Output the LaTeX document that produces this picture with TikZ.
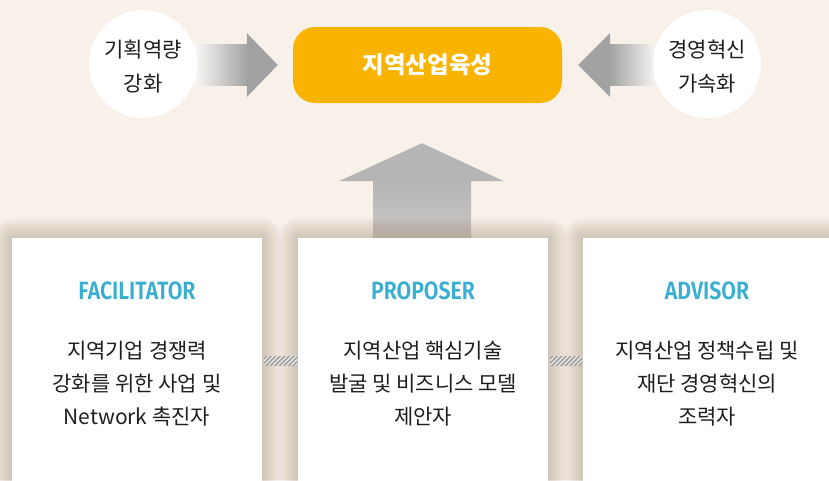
\documentclass[tikz,border=0pt]{standalone}
\usepackage{fontspec}
\setmainfont{Noto Sans CJK KR}
\newfontfamily\kr{Noto Sans CJK KR}
\newfontfamily\titlef[FakeStretch=0.85]{Fira Sans SemiBold}
\usetikzlibrary{calc}
\definecolor{bg}{HTML}{F7F1EA}
\definecolor{gold}{HTML}{F8B400}
\definecolor{titleblue}{HTML}{38AED1}
\definecolor{txt}{HTML}{1E1E1E}
\definecolor{arrowgray}{HTML}{A2A2A2}
\definecolor{upgray}{HTML}{B5B5B5}
\definecolor{uplight}{HTML}{CAC8C4}
\definecolor{shadowc}{HTML}{9A8068}
\definecolor{hatchc}{HTML}{A0A0A0}
\definecolor{hatchbg}{HTML}{EEEAE6}
\pgfdeclarelayer{back}
\pgfdeclarelayer{shade}
\pgfsetlayers{back,shade,main}
\begin{document}
\begin{tikzpicture}[x=1pt,y=-1pt,
  circ/.style={circle, fill=white, minimum size=108pt, inner sep=0},
  ctext/.style={font=\kr\fontsize{21}{34}\selectfont, text=txt, align=center, inner sep=0},
  goalbox/.style={rounded corners=22pt, fill=gold, minimum width=269pt, minimum height=76pt, inner sep=0, font=\kr\bfseries\fontsize{23.5}{26}\selectfont, text=white},
  panel/.style={fill=white, minimum width=250pt, minimum height=262pt, anchor=north, inner sep=0},
  role/.style={font=\titlef\fontsize{25}{28}\selectfont, text=titleblue, inner sep=0},
  desc/.style={font=\kr\fontsize{21}{33}\selectfont, text=txt, align=center, inner sep=0},
]
\useasboundingbox (0,0) rectangle (829,480);
\begin{pgfonlayer}{back}
\fill[bg] (0,0) rectangle (829,480);
\end{pgfonlayer}

% goal
\node[goalbox] (goal) at (427.5,65) {지역산업육성};

% panels
\node[panel] (fac) at (137,238) {};
\node[panel] (pro) at (423,238) {};
\node[panel] (adv) at (708,238) {};

% shadows
\begin{pgfonlayer}{shade}
\foreach \b in {fac,pro,adv}{
  \foreach \i in {1,...,20}{
    \fill[shadowc, fill opacity=0.02, rounded corners=\i pt]
      ($(\b.north west)+(-\i,-\i)$) rectangle ($(\b.south east)+(\i,\i)$);
  }
}
\end{pgfonlayer}

% up arrow (behind shadows)
\begin{pgfonlayer}{back}
\coordinate (uptip) at ($(goal.south)+(-5.5,40)$);
\fill[upgray] (uptip) -- ($(uptip)+(82,38)$) -- ($(uptip)+(-83,38)$) -- cycle;
\shade[top color=upgray, bottom color=uplight]
  ($(uptip)+(-49,37.5)$) rectangle ($(pro.north)+(48,0)$);
\end{pgfonlayer}

% left block arrow
\coordinate (ltip) at ($(goal.west)+(-15,0)$);
\shade[left color=white!60!bg, right color=arrowgray]
  ($(ltip)+(-84,-21)$) rectangle ($(ltip)+(-30,20)$);
\fill[arrowgray] (ltip) -- ($(ltip)+(-31,-32)$) -- ($(ltip)+(-31,32)$) -- cycle;

% right block arrow
\coordinate (rtip) at ($(goal.east)+(16,0)$);
\shade[left color=arrowgray, right color=white!60!bg]
  ($(rtip)+(31,-21)$) rectangle ($(rtip)+(80,20)$);
\fill[arrowgray] (rtip) -- ($(rtip)+(32,-32)$) -- ($(rtip)+(32,32)$) -- cycle;

% circles
\node[circ] (c1) at (143,64) {};
\node[ctext] (c1t) at (143,67) {기획역량\\강화};
\node[circ] (c2) at (707,64) {};
\node[ctext] (c2t) at (707,67) {경영혁신\\가속화};

% hatched links between panels
\foreach \a/\b in {fac/pro, pro/adv}{
  \begin{scope}
    \path[clip] ($(\a.north east)+(2,118)$) rectangle ($(\b.north west)+(-1,127)$);
    \fill[hatchbg] ($(\a.north east)+(2,118)$) rectangle ($(\b.north west)+(-1,127)$);
    \foreach \k in {-12,-7.5,...,45}{
      \draw[hatchc, line width=1.7pt] ($(\a.north east)+(2+\k,128)$) -- ++(11,-11);
    }
  \end{scope}
}

% texts
\node[role] (facr) at (137,291) {FACILITATOR};
\node[role] (pror) at (423,291) {PROPOSER};
\node[role] (advr) at (707,291) {ADVISOR};

\node[desc] (facd) at (137,384) {지역기업 경쟁력\\강화를 위한 사업 및\\Network 촉진자};
\node[desc] (prod) at (423,384) {지역산업 핵심기술\\발굴 및 비즈니스 모델\\제안자};
\node[desc] (advd) at (707,384) {지역산업 정책수립 및\\재단 경영혁신의\\조력자};
\end{tikzpicture}
\end{document}
